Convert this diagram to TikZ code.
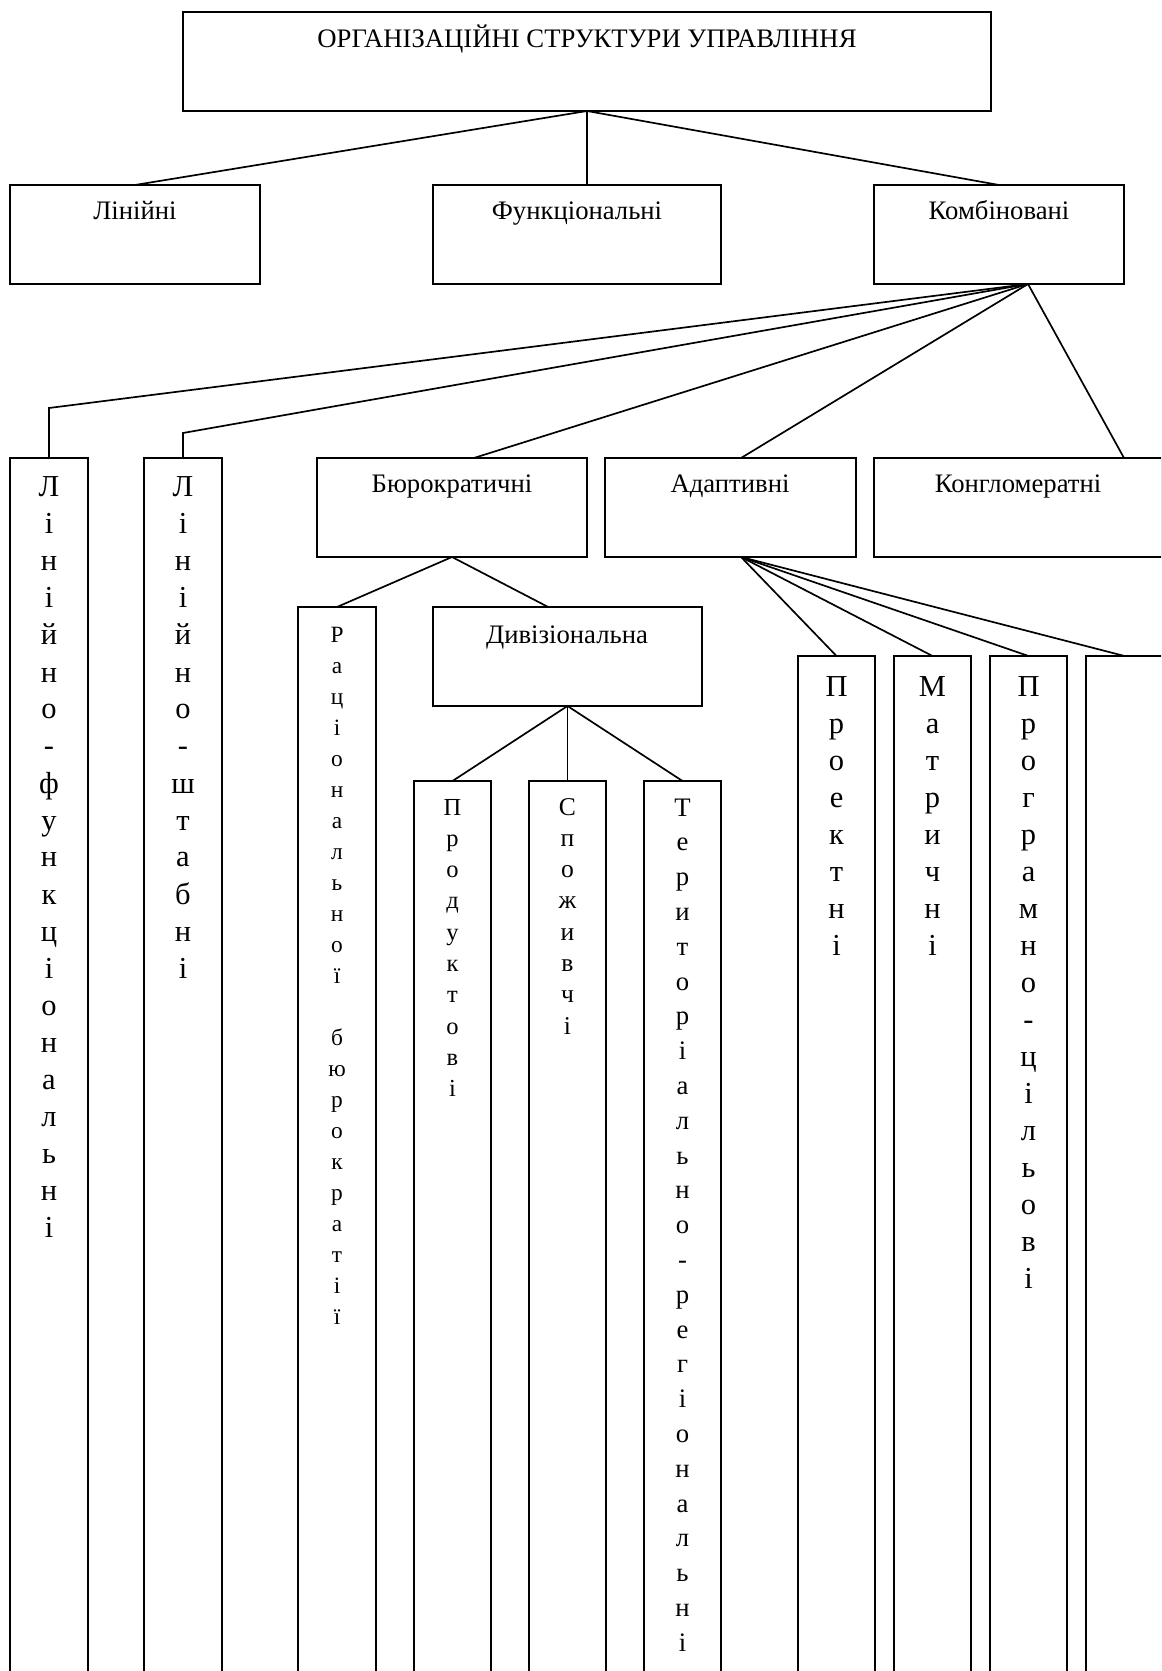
\documentclass[tikz,border=0pt]{standalone}
\usepackage{fontspec}
\setmainfont{Liberation Serif}
\usetikzlibrary{fit}
\newlength\pxu
\setlength\pxu{0.4494pt}
\makeatletter
\newcommand\vlet[3]{{\fontsize{#1}{#2\pxu}\selectfont\vtop{\baselineskip=#2\pxu\lineskiplimit=-100pt\lineskip=0pt\vl@loop#3\@nil}}}
\def\vl@loop#1{\ifx#1\@nil\else\hbox to 0pt{\hss#1\hss}\expandafter\vl@loop\fi}
\makeatother
\begin{document}
\begin{tikzpicture}[x=0.4494pt,y=-0.4494pt,
  box/.style={draw=black, line width=0.76pt, inner sep=0pt, outer sep=0pt, rectangle},
  lbl/.style={anchor=base, inner sep=0pt, font=\fontsize{12pt}{14pt}\selectfont},
  vlbl/.style={anchor=base, inner sep=0pt},
  conn/.style={draw=black, line width=0.76pt}]
\useasboundingbox (0,0) rectangle (1161,1671);
\clip (0,0) rectangle (1161,1671);
\fill[white] (0,0) rectangle (1161,1671);
% boxes
\node[box, fit={(183,12) (991,111)}] (top) {};
\node[box, fit={(10,185) (260,284)}] (lin) {};
\node[box, fit={(433,185) (721,284)}] (fun) {};
\node[box, fit={(874,185) (1124,284)}] (komb) {};
\node[box, fit={(10,458) (88,1700)}] (lf) {};
\node[box, fit={(144,458) (222,1700)}] (ls) {};
\node[box, fit={(317,458) (587,557)}] (bur) {};
\node[box, fit={(605,458) (856,557)}] (adapt) {};
\node[box, fit={(874,458) (1162,557)}] (kong) {};
\node[box, fit={(298,607) (376,1700)}] (rac) {};
\node[box, fit={(433,607) (702,706)}] (div) {};
\node[box, fit={(414,781) (491,1700)}] (prod) {};
\node[box, fit={(529,781) (606,1700)}] (spoz) {};
\node[box, fit={(644,781) (721,1700)}] (ter) {};
\node[box, fit={(798,656) (875,1700)}] (proj) {};
\node[box, fit={(894,656) (971,1700)}] (matr) {};
\node[box, fit={(990,656) (1067,1700)}] (prog) {};
\node[box, fit={(1086,656) (1163,1700)}] (empt) {};
% connection points
\path (fun.north west) -- (fun.north east) coordinate[pos=0.535] (funt);
\path (komb.south west) -- (komb.south east) coordinate[pos=0.616] (kbo);
\path (bur.north west) -- (bur.north east) coordinate[pos=0.581] (burt);
\path (adapt.north west) -- (adapt.north east) coordinate[pos=0.542] (adt);
\path (kong.north west) -- (kong.north east) coordinate[pos=0.868] (kot);
\path (div.north west) -- (div.north east) coordinate[pos=0.428] (divt);
\path (adapt.south west) -- (adapt.south east) coordinate[pos=0.542] (adb);
\coordinate (e1) at (49,408);
\coordinate (e2) at (183,433);
% connectors
\draw[conn] (top.south) -- (lin.north);
\draw[conn] (top.south) -- (funt);
\draw[conn] (top.south) -- (komb.north);
\draw[conn] (kbo) -- (e1) -- (lf.north);
\draw[conn] (kbo) -- (e2) -- (ls.north);
\draw[conn] (kbo) -- (burt);
\draw[conn] (kbo) -- (adt);
\draw[conn] (kbo) -- (kot);
\draw[conn] (bur.south) -- (rac.north);
\draw[conn] (bur.south) -- (divt);
\draw[conn] (div.south) -- (prod.north);
\draw[conn] (div.south) -- (spoz.north);
\draw[conn] (div.south) -- (ter.north);
\draw[conn] (adb) -- (proj.north);
\draw[conn] (adb) -- (matr.north);
\draw[conn] (adb) -- (prog.north);
\draw[conn] (adb) -- (empt.north);
% horizontal labels
\node[lbl] (toptxt) at (587,48) {ОРГАНІЗАЦІЙНІ СТРУКТУРИ УПРАВЛІННЯ};
\node[lbl] (lintxt) at (135,220) {Лінійні};
\node[lbl] (funtxt) at (577,220) {Функціональні};
\node[lbl] (kombtxt) at (999,220) {Комбіновані};
\node[lbl] (burtxt) at (452,493) {Бюрократичні};
\node[lbl] (adtxt) at (730,493) {Адаптивні};
\node[lbl] (kontxt) at (1018,493) {Конгломератні};
\node[lbl] (divtxt) at (567,643) {Дивізіональна};
% vertical labels
\node[vlbl] (lftxt) at (49,497) {\vlet{13.7pt}{37}{Лінійно-функціональні}};
\node[vlbl] (lstxt) at (183,497) {\vlet{13.7pt}{37}{Лінійно-штабні}};
\node[vlbl] (ractxt) at (337,642) {\vlet{10.5pt}{31}{Раціональної~бюрократії}};
\node[vlbl] (prodtxt) at (452.5,815) {\vlet{11pt}{31.3}{Продуктові}};
\node[vlbl] (spoztxt) at (567.5,815) {\vlet{11.5pt}{31.3}{Споживчі}};
\node[vlbl] (tertxt) at (682.5,816) {\vlet{12pt}{34.8}{Територіально-регіональні}};
\node[vlbl] (projtxt) at (836.5,696) {\vlet{13.7pt}{37}{Проектні}};
\node[vlbl] (matrtxt) at (932.5,696) {\vlet{13.7pt}{37}{Матричні}};
\node[vlbl] (progtxt) at (1028.5,696) {\vlet{13.7pt}{37}{Програмно-цільові}};
\end{tikzpicture}
\end{document}
